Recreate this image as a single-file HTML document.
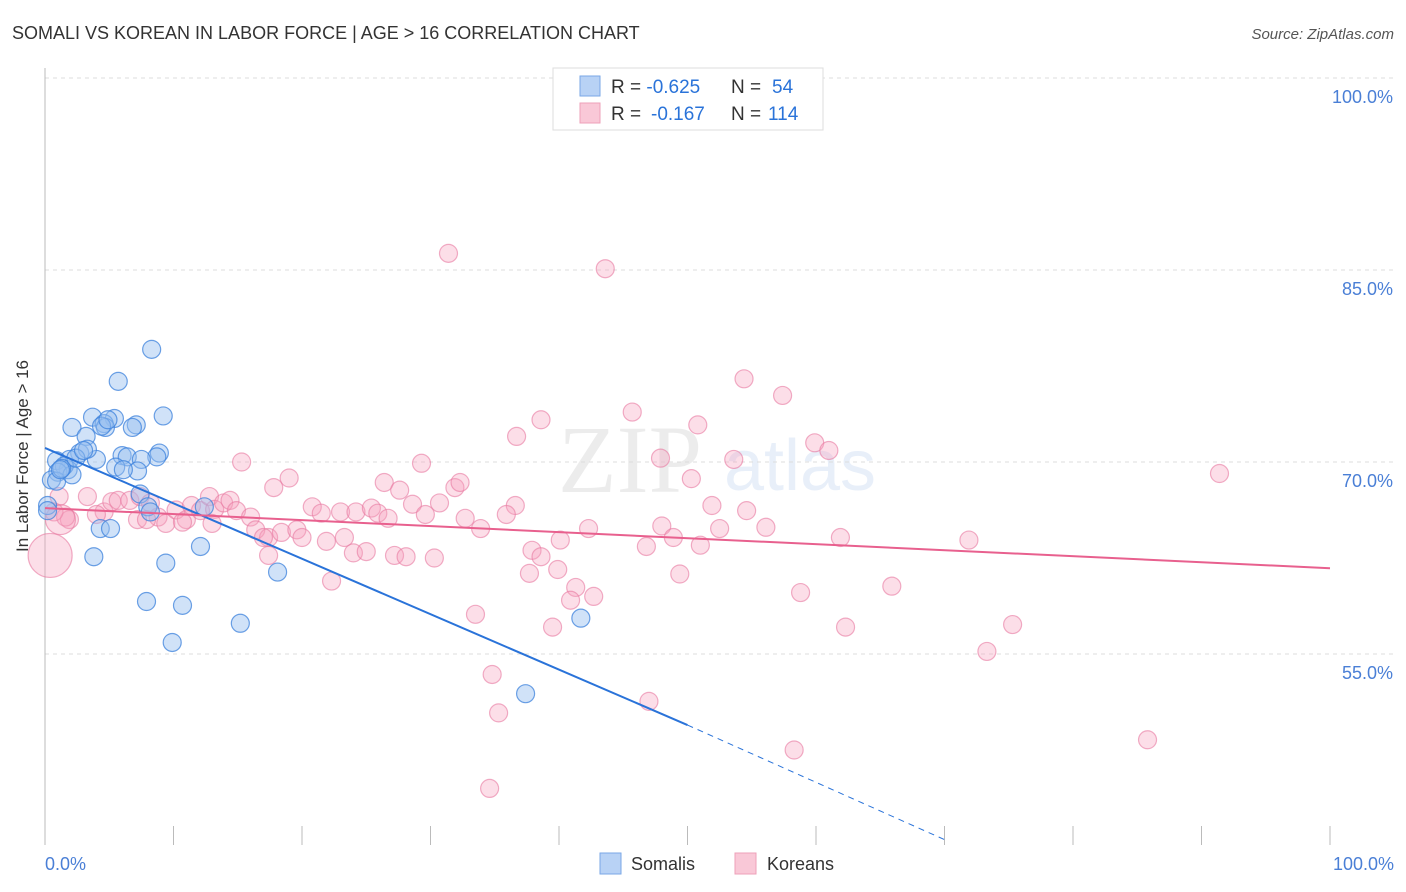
<!DOCTYPE html>
<html><head><meta charset="utf-8"><style>
body{margin:0;background:#fff;font-family:"Liberation Sans",sans-serif;}
#wrap{position:relative;width:1406px;height:892px;overflow:hidden;}
</style></head><body>
<div id="wrap">
<svg id="chart" width="1406" height="892" xmlns="http://www.w3.org/2000/svg">
<text x="12" y="39" font-size="18" fill="#333">SOMALI VS KOREAN IN LABOR FORCE | AGE &gt; 16 CORRELATION CHART</text>
<text x="1394" y="39" font-size="15" fill="#555" font-style="italic" text-anchor="end">Source: ZipAtlas.com</text>
<text x="630" y="492" font-size="96" fill="#000" opacity="0.07" font-family="Liberation Serif,serif" text-anchor="middle">ZIP</text>
<text x="800" y="490" font-size="72" fill="#4a7fd6" opacity="0.12" text-anchor="middle">atlas</text>
<g id="grid"></g><g id="axes"></g><g id="pts"></g><g id="lines"></g>
<text x="28" y="456" font-size="17" fill="#333" text-anchor="middle" transform="rotate(-90 28 456)">In Labor Force | Age &gt; 16</text>
<text x="45" y="870" font-size="18" fill="#4a7fd6">0.0%</text>
<text x="1394" y="870" font-size="18" fill="#4a7fd6" text-anchor="end">100.0%</text>
<g>
<rect x="553" y="68" width="270" height="62" fill="#fff" stroke="#ddd"/>
<rect x="580" y="76" width="20" height="20" fill="#b8d2f5" stroke="#7aa7e6"/>
<rect x="580" y="103" width="20" height="20" fill="#f9c8d7" stroke="#eea0b8"/>
<text x="611" y="93" font-size="19" fill="#333">R = <tspan fill="#2a73d9">-0.625</tspan><tspan x="731">N = </tspan><tspan fill="#2a73d9" x="772">54</tspan></text>
<text x="611" y="120" font-size="19" fill="#333">R = <tspan fill="#2a73d9" x="651">-0.167</tspan><tspan x="731">N = </tspan><tspan fill="#2a73d9" x="768">114</tspan></text>
</g>
<g><rect x="600" y="853" width="21" height="21" fill="#b8d2f5" stroke="#7aa7e6"/><text x="631" y="870" font-size="18" fill="#333">Somalis</text></g>
<g><rect x="735" y="853" width="21" height="21" fill="#f9c8d7" stroke="#eea0b8"/><text x="767" y="870" font-size="18" fill="#333">Koreans</text></g>
</svg>
</div>
<script>
const yTicks=[100,85,70,55];
const xTicks=[0,10,20,30,40,50,60,70,80,90,100];
const somaliX=[8.3,5.7,3.7,5.4,9.2,4.6,7.1,2.1,3.2,4.7,4.4,6.0,6.4,8.9,8.7,7.5,5.5,7.2,4.0,2.7,1.9,0.9,3.3,1.8,1.5,1.0,0.5,0.9,2.1,7.4,0.2,8.0,8.2,12.4,4.3,5.1,3.8,9.4,12.1,18.1,7.9,10.7,15.2,9.9,41.7,37.4,0.2,1.3,2.4,4.9,6.8,1.2,3.0,6.1];
const somaliY=[78.8,76.3,73.5,73.4,73.6,73.0,72.9,72.7,72.0,72.7,72.8,70.5,70.4,70.7,70.4,70.2,69.6,69.3,70.2,70.7,70.2,70.1,71.0,69.4,69.7,69.2,68.6,68.5,69.0,67.5,66.6,66.5,66.1,66.5,64.8,64.8,62.6,62.1,63.4,61.4,59.1,58.8,57.4,55.9,57.8,51.9,66.2,69.5,70.3,73.3,72.7,69.4,70.9,69.4];
const koreanX=[31.4,43.6,54.4,57.4,45.7,38.6,50.8,36.7,59.9,61.0,47.9,53.6,15.3,29.3,91.4,50.3,19.0,17.8,26.4,31.9,32.3,27.6,28.6,30.7,36.6,51.9,54.6,20.8,21.5,23.0,24.2,25.4,25.9,26.7,29.6,32.7,35.9,33.9,40.1,42.3,48.0,48.9,51.0,52.5,56.1,61.9,71.9,1.1,3.3,4.6,5.2,5.7,6.6,7.4,8.2,8.8,9.4,10.2,11.0,11.4,12.1,12.8,13.2,13.9,14.4,14.9,16.0,16.4,17.4,18.4,19.6,20.0,21.9,23.3,24.0,25.0,27.2,28.1,30.3,37.9,38.6,39.9,41.3,40.9,42.7,46.8,49.4,37.7,33.5,34.8,35.3,39.5,47.0,58.8,65.9,62.3,75.3,73.3,58.3,34.6,85.8,1.9,4.0,1.6,0.7,7.2,7.9,10.7,17.0,13.0,22.3,17.4,1.2,0.4];
const koreanY=[86.3,85.1,76.5,75.2,73.9,73.3,72.9,72.0,71.5,70.9,70.3,70.2,70.0,69.9,69.1,68.7,68.75,68.0,68.4,68.0,68.4,67.8,66.7,66.8,66.6,66.6,66.2,66.5,66.0,66.1,66.1,66.4,66.0,65.6,65.9,65.6,65.9,64.8,63.9,64.8,65.0,64.1,63.5,64.8,64.9,64.1,63.9,67.3,67.3,66.1,66.9,67.0,67.0,67.3,66.8,65.7,65.2,66.25,65.5,66.6,66.2,67.3,66.3,66.8,67.0,66.2,65.7,64.7,64.1,64.5,64.7,64.1,63.8,64.1,62.9,63.0,62.7,62.6,62.5,63.1,62.6,61.6,60.2,59.2,59.5,63.4,61.25,61.3,58.1,53.4,50.4,57.1,51.3,59.8,60.3,57.1,57.3,55.2,47.5,44.5,48.3,65.5,65.9,65.7,66.1,65.5,65.5,65.3,64.1,65.2,60.7,62.7,65.5,62.7];
const koreanBig=[0,0,0,0,0,0,0,0,0,0,0,0,0,0,0,0,0,0,0,0,0,0,0,0,0,0,0,0,0,0,0,0,0,0,0,0,0,0,0,0,0,0,0,0,0,0,0,0,0,0,0,0,0,0,0,0,0,0,0,0,0,0,0,0,0,0,0,0,0,0,0,0,0,0,0,0,0,0,0,0,0,0,0,0,0,0,0,0,0,0,0,0,0,0,0,0,0,0,0,0,0,0,0,0,0,0,0,0,0,0,0,0,1,2];
const somaliTrend=[71.1,49.45,40.5];
const koreanTrend=[66.4,61.7];
const NS='http://www.w3.org/2000/svg';
const X0=45,X1=1330,YTOP=78,PXPER=12.8,YBOT=845;
function sx(v){return X0+(X1-X0)*v/100;}
function sy(v){return YTOP+(100-v)*PXPER;}
function mk(tag,attrs,parent){const e=document.createElementNS(NS,tag);for(const k in attrs)e.setAttribute(k,attrs[k]);document.getElementById(parent).appendChild(e);return e;}
yTicks.forEach(t=>{
 const l=mk('line',{x1:X0,x2:1394,y1:sy(t),y2:sy(t),stroke:'#ddd','stroke-dasharray':'4,4'},'grid');
 
 
 const tx=mk('text',{x:1393,y:sy(t)+25,'font-size':18,fill:'#4a7fd6','text-anchor':'end'},'grid');
 tx.textContent=t.toFixed(1)+'%';
 
 
});
const ya=mk('line',{x1:X0,x2:X0,y1:68,y2:YBOT,stroke:'#bbb'},'axes');


xTicks.forEach(t=>{
 const l=mk('line',{x1:sx(t),x2:sx(t),y1:826,y2:YBOT,stroke:'#bbb'},'axes');
 
 
});
function dot(x,y,r,fill,stroke,name){
 const c=mk('circle',{cx:sx(x),cy:sy(y),r:r,fill:fill,stroke:stroke,'stroke-width':1.2},'pts');
 
 
}
koreanX.forEach((x,i)=>{const b=koreanBig[i];dot(x,koreanY[i],b==2?22:b==1?15:9,'rgba(245,160,190,0.35)','rgba(232,120,160,0.6)','korean-point');});
somaliX.forEach((x,i)=>dot(x,somaliY[i],9,'rgba(150,190,240,0.45)','rgba(60,130,220,0.75)','somali-point'));
const bl=mk('line',{x1:sx(0),y1:sy(somaliTrend[0]),x2:sx(50),y2:sy(somaliTrend[1]),stroke:'#2a73d9','stroke-width':2},'lines');


const bd=mk('line',{x1:sx(50),y1:sy(somaliTrend[1]),x2:sx(70),y2:sy(somaliTrend[2]),stroke:'#2a73d9','stroke-width':1,'stroke-dasharray':'6,5'},'lines');


const pl=mk('line',{x1:sx(0),y1:sy(koreanTrend[0]),x2:sx(100),y2:sy(koreanTrend[1]),stroke:'#e8608e','stroke-width':2},'lines');


</script>
</body></html>
